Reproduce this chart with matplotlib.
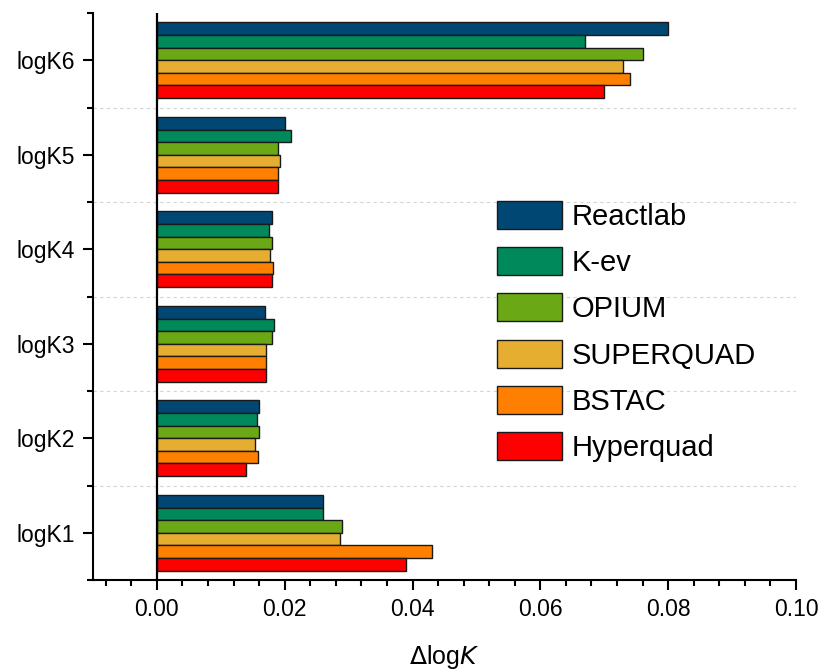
import numpy as np
from matplotlib import pyplot as plt
from matplotlib.ticker import MultipleLocator

plt.rcParams['font.family'] = ['Liberation Sans', 'DejaVu Sans']

constants = ['logK1', 'logK2', 'logK3', 'logK4', 'logK5', 'logK6']

programs = ['Reactlab', 'K-ev', 'OPIUM', 'SUPERQUAD', 'BSTAC', 'Hyperquad']
colors = ['#004873', '#008A5B', '#6BA816', '#E5AE30', '#FF8000', '#FF0000']

# deviations, one list per program, ordered logK1 .. logK6
reactlab = [0.026, 0.016, 0.0169, 0.018, 0.020, 0.080]
kev = [0.026, 0.0157, 0.0183, 0.0175, 0.021, 0.067]
opium = [0.029, 0.016, 0.018, 0.018, 0.019, 0.076]
superquad = [0.0287, 0.0153, 0.017, 0.0177, 0.0192, 0.073]
bstac = [0.043, 0.0158, 0.017, 0.0181, 0.019, 0.074]
hyperquad = [0.039, 0.014, 0.017, 0.018, 0.019, 0.070]


def draw_bars(ax):
    series = [reactlab, kev, opium, superquad, bstac, hyperquad]
    y = np.arange(len(constants))
    h = 0.8 / len(series)

    for i, (name, vals, c) in enumerate(zip(programs, series, colors)):
        offset = (len(series) / 2 - 0.5 - i) * h
        ax.barh(y + offset, vals, height=h, color=c, edgecolor='#1a1a1a',
                linewidth=1.0, label=name, zorder=3)

    ax.axvline(0, color='black', linewidth=1.6, zorder=4)

    # dotted separators between the groups
    for b in y[:-1] + 0.5:
        ax.axhline(b, color='#d4d4d4', linestyle=(0, (3, 3)), linewidth=0.8,
                   zorder=0)


def style_axes(ax):
    ax.set_xlim(-0.01, 0.10)
    ax.set_ylim(-0.5, len(constants) - 0.5)

    ax.set_yticks(np.arange(len(constants)))
    ax.set_yticklabels(constants)
    ax.set_yticks(np.arange(len(constants) + 1) - 0.5, minor=True)

    ax.set_xticks(np.arange(0, 0.101, 0.02))
    ax.xaxis.set_minor_locator(MultipleLocator(0.004))
    ax.xaxis.set_major_formatter(plt.FuncFormatter(lambda v, p: '%.2f' % v))

    ax.tick_params(which='major', length=7, width=1.5, labelsize=16.5, pad=6)
    ax.tick_params(which='minor', length=4, width=1.5)

    for side in ['top', 'right']:
        ax.spines[side].set_visible(False)
    for side in ['left', 'bottom']:
        ax.spines[side].set_linewidth(1.5)

    ax.set_xlabel(r'$\Delta$log$\it{K}$', fontsize=18, labelpad=16)


def main():
    fig = plt.figure(figsize=(8.25, 6.71), dpi=100)
    ax = fig.add_axes([93 / 825, 1 - 580 / 671, (796 - 93) / 825, (580 - 13) / 671])

    draw_bars(ax)
    style_axes(ax)

    ax.legend(loc='upper left', bbox_to_anchor=(497 / 825, 1 - 201 / 671),
              bbox_transform=fig.transFigure, frameon=False, fontsize=21,
              handlelength=2.23, handleheight=1.1, handletextpad=0.33,
              labelspacing=0.56, borderpad=0, borderaxespad=0)

    fig.savefig('out.png', dpi=100)
    plt.close(fig)


if __name__ == '__main__':
    main()
